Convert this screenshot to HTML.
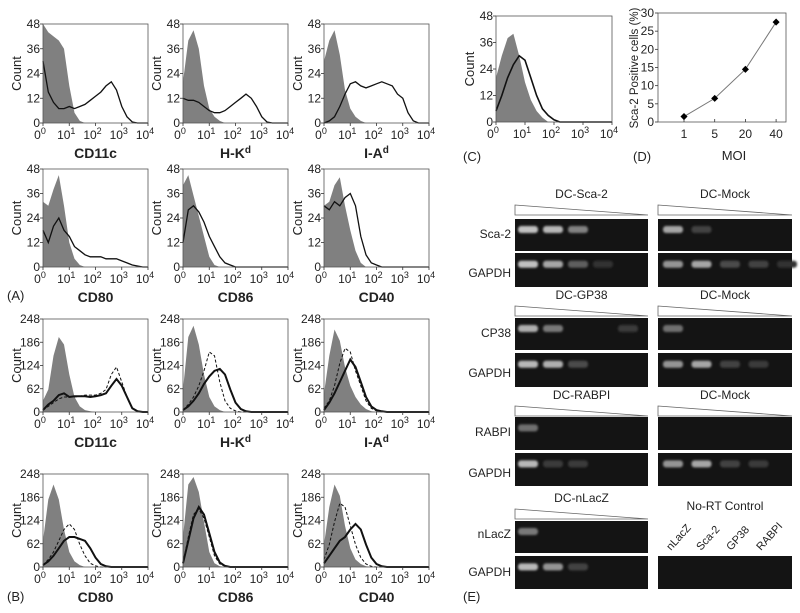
<!DOCTYPE html>
<html><head><meta charset="utf-8">
<style>
html,body{margin:0;padding:0;background:#fff;}
svg{display:block;font-family:"Liberation Sans",Arial,sans-serif;}
</style></head>
<body>
<svg id="fig" width="800" height="613" viewBox="0 0 800 613" xmlns="http://www.w3.org/2000/svg">
<defs><filter id="blur" x="-50%" y="-100%" width="200%" height="300%"><feGaussianBlur stdDeviation="1.1"/></filter></defs>
</svg>
<script>
// ---- histogram data (counts sampled every 0.2 log-decade from 10^0 to 10^4) ----
const logSteps = [0,0.2,0.4,0.6,0.8,1,1.2,1.4,1.6,1.8,2,2.2,2.4,2.6,2.8,3,3.2,3.4,3.6,3.8,4];
const A_ticks = [0,12,24,36,48];
const B_ticks = [0,62,124,186,248];
const xTickExp = [0,1,2,3,4];
// Panel A
const A_CD11c_iso = [48,44,42,40,36,18,5,1,0,0,0,0,0,0,0,0,0,0,0,0,0];
const A_CD11c_dc  = [30,15,10,7,7,8,7,8,9,11,13,15,18,20,16,8,3,0.5,0,0,0];
const A_HKd_iso   = [20,40,45,36,18,7,3,1,0,0,0,0,0,0,0,0,0,0,0,0,0];
const A_HKd_dc    = [12,11,11,10,8,6,5,5,6,8,10,12,14,12,8,3,0.5,0,0,0,0];
const A_IAd_iso   = [30,40,45,33,16,7,3,1,0,0,0,0,0,0,0,0,0,0,0,0,0];
const A_IAd_dc    = [0,1,3,8,14,19,20,18,17,18,19,20,19,18,14,12,5,1,0,0,0];
const A_CD80_iso  = [32,30,38,45,30,12,4,1,0,0,0,0,0,0,0,0,0,0,0,0,0];
const A_CD80_dc   = [18,12,20,24,18,15,10,8,6,5,5,5,4,4,4,3,2,1,0.5,0,0];
const A_CD86_iso  = [40,45,35,25,15,5,1,0,0,0,0,0,0,0,0,0,0,0,0,0,0];
const A_CD86_dc   = [12,28,30,27,22,15,10,5,2,1,0,0,0,0,0,0,0,0,0,0,0];
const A_CD40_iso  = [30,32,40,44,30,18,8,2,0,0,0,0,0,0,0,0,0,0,0,0,0];
const A_CD40_dc   = [30,28,32,30,34,36,30,15,6,2,1,0,0,0,0,0,0,0,0,0,0];
// Panel B
const B_CD11c_iso = [30,60,150,200,180,100,40,15,5,2,0,0,0,0,0,0,0,0,0,0,0];
const B_CD11c_d1  = [5,15,25,35,40,40,40,42,45,45,45,50,60,100,120,80,40,10,2,0,0];
const B_CD11c_d2  = [5,20,30,45,50,40,42,42,42,40,42,45,50,70,88,70,40,10,2,0,0];
const B_HKd_iso   = [60,200,230,180,100,40,15,5,0,0,0,0,0,0,0,0,0,0,0,0,0];
const B_HKd_d1    = [5,20,40,70,110,160,150,80,30,10,3,0,0,0,0,0,0,0,0,0,0];
const B_HKd_d2    = [5,15,30,50,75,95,110,115,100,60,25,8,2,0,0,0,0,0,0,0,0];
const B_IAd_iso   = [50,150,220,190,120,70,40,20,8,2,0,0,0,0,0,0,0,0,0,0,0];
const B_IAd_d1    = [10,30,70,130,170,160,110,70,30,10,3,0,0,0,0,0,0,0,0,0,0];
const B_IAd_d2    = [5,25,50,80,110,140,120,80,40,15,5,2,0,0,0,0,0,0,0,0,0];
const B_CD80_iso  = [70,180,220,180,100,40,15,5,0,0,0,0,0,0,0,0,0,0,0,0,0];
const B_CD80_d1   = [5,20,40,70,100,115,100,60,30,10,3,0,0,0,0,0,0,0,0,0,0];
const B_CD80_d2   = [5,15,30,50,70,80,80,75,70,50,25,8,2,0,0,0,0,0,0,0,0];
const B_CD86_iso  = [80,220,240,200,120,40,10,2,0,0,0,0,0,0,0,0,0,0,0,0,0];
const B_CD86_d1   = [10,80,140,155,130,80,30,8,2,0,0,0,0,0,0,0,0,0,0,0,0];
const B_CD86_d2   = [10,70,130,160,140,90,40,12,3,0,0,0,0,0,0,0,0,0,0,0,0];
const B_CD40_iso  = [60,160,220,190,110,50,20,8,2,0,0,0,0,0,0,0,0,0,0,0,0];
const B_CD40_d1   = [20,60,120,170,160,110,60,25,8,2,0,0,0,0,0,0,0,0,0,0,0];
const B_CD40_d2   = [10,30,50,70,80,100,115,100,60,25,8,2,0,0,0,0,0,0,0,0,0];
// Panel C
const C_iso = [20,30,38,40,30,18,10,5,2,0,0,0,0,0,0,0,0,0,0,0,0];
const C_dc  = [5,12,20,26,30,28,20,12,6,3,1,0,0,0,0,0,0,0,0,0,0];
// Panel D
const D_moi = ["1","5","20","40"];
const D_pct = [1.5,6.5,14.5,27.5];
const D_ticks = [0,5,10,15,20,25,30];
// Panel E (band intensities per lane)
const E_Sca2_L=[0.85,0.8,0.5,0,0], E_Sca2_R=[0.7,0.15,0,0,0];
const E_G1_L=[0.85,0.7,0.3,0.05,0], E_G1_R=[0.6,0.7,0.2,0.15,0.05];
const E_CP38_L=[0.75,0.45,0,0,0.1], E_CP38_R=[0.4,0,0,0,0];
const E_G2_L=[0.8,0.75,0.2,0,0], E_G2_R=[0.6,0.7,0.15,0.1,0];
const E_RAB_L=[0.4,0,0,0,0], E_RAB_R=[0,0,0,0,0];
const E_G3_L=[0.8,0.1,0.1,0,0], E_G3_R=[0.6,0.7,0.15,0.1,0];
const E_LAC_L=[0.45,0,0,0,0];
const E_G4_L=[0.8,0.6,0.15,0,0];

const NS="http://www.w3.org/2000/svg";
const svg=document.getElementById('fig');
function mk(tag,attrs,parent){const e=document.createElementNS(NS,tag);for(const k in attrs)e.setAttribute(k,attrs[k]);(parent||svg).appendChild(e);return e;}
function txt(x,y,s,size,opts,parent){const t=mk('text',Object.assign({x:x,y:y,'font-size':size,fill:'#222'},opts||{}),parent);t.textContent=s;return t;}

function hist(name,x0,y0,w,h,ymax,yt,iso,lines,label,sup){
  const g=mk('g',{});
  
  
  const xs=v=>x0+v/4*w, ys=v=>y0+h-v/ymax*h;
  let d='M'+xs(0)+','+ys(0);
  logSteps.forEach((l,i)=>{d+=' L'+xs(l).toFixed(1)+','+ys(iso[i]).toFixed(1);});
  d+=' L'+xs(4)+','+ys(0)+' Z';
  const p=mk('path',{d:d,fill:'#808080'},g);
  
  
  lines.forEach(ln=>{
    const pts=logSteps.map((l,i)=>xs(l).toFixed(1)+','+ys(ln.v[i]).toFixed(1)).join(' ');
    const pl=mk('polyline',{points:pts,fill:'none',stroke:'#111','stroke-width':ln.w,'stroke-dasharray':ln.dash||'none'},g);
    
    
  });
  mk('rect',{x:x0,y:y0,width:w,height:h,fill:'none',stroke:'#555','stroke-width':0.8},g);
  yt.forEach(t=>{
    mk('line',{x1:x0-3,x2:x0,y1:ys(t),y2:ys(t),stroke:'#333','stroke-width':0.8},g);
    txt(x0-3,ys(t)+4,String(t),12,{'text-anchor':'end'},g);
  });
  xTickExp.forEach(e=>{
    mk('line',{x1:xs(e),x2:xs(e),y1:y0+h,y2:y0+h+3,stroke:'#333','stroke-width':0.8},g);
    const t=txt(xs(e)-3,y0+h+16,e===0?'0':'10',12,{'text-anchor':'middle'},g);
    const s=mk('tspan',{'font-size':9,dy:-5},t);s.textContent=String(e);
  });
  const yl=txt(x0-22,y0+h/2,'Count',13,{'text-anchor':'middle',transform:'rotate(-90 '+(x0-22)+' '+(y0+h/2)+')'},g);
  
  
  if(label){
    const t=txt(x0+w/2,y0+h+35,label,14,{'text-anchor':'middle','font-weight':'bold'},g);
    if(sup){const s=mk('tspan',{'font-size':10,dy:-5},t);s.textContent=sup;}
    
    
  }
}
const colX=[43,183,324], W=105;
// A
hist('a-cd11c',colX[0],24,W,99,48,A_ticks,A_CD11c_iso,[{v:A_CD11c_dc,w:1.3,n:'dc-line'}],'CD11c');
hist('a-hkd',colX[1],24,W,99,48,A_ticks,A_HKd_iso,[{v:A_HKd_dc,w:1.3,n:'dc-line'}],'H-K','d');
hist('a-iad',colX[2],24,W,99,48,A_ticks,A_IAd_iso,[{v:A_IAd_dc,w:1.3,n:'dc-line'}],'I-A','d');
hist('a-cd80',colX[0],169,W,98,48,A_ticks,A_CD80_iso,[{v:A_CD80_dc,w:1.3,n:'dc-line'}],'CD80');
hist('a-cd86',colX[1],169,W,98,48,A_ticks,A_CD86_iso,[{v:A_CD86_dc,w:1.3,n:'dc-line'}],'CD86');
hist('a-cd40',colX[2],169,W,98,48,A_ticks,A_CD40_iso,[{v:A_CD40_dc,w:1.3,n:'dc-line'}],'CD40');
// B
const bl=(d1,d2)=>[{v:d1,w:1,dash:'3,2',n:'dashed-line'},{v:d2,w:2,n:'solid-line'}];
hist('b-cd11c',colX[0],319,W,93,248,B_ticks,B_CD11c_iso,bl(B_CD11c_d1,B_CD11c_d2),'CD11c');
hist('b-hkd',colX[1],319,W,93,248,B_ticks,B_HKd_iso,bl(B_HKd_d1,B_HKd_d2),'H-K','d');
hist('b-iad',colX[2],319,W,93,248,B_ticks,B_IAd_iso,bl(B_IAd_d1,B_IAd_d2),'I-A','d');
hist('b-cd80',colX[0],474,W,93,248,B_ticks,B_CD80_iso,bl(B_CD80_d1,B_CD80_d2),'CD80');
hist('b-cd86',colX[1],474,W,93,248,B_ticks,B_CD86_iso,bl(B_CD86_d1,B_CD86_d2),'CD86');
hist('b-cd40',colX[2],474,W,93,248,B_ticks,B_CD40_iso,bl(B_CD40_d1,B_CD40_d2),'CD40');
// C
hist('c-sca2',496,16,116,106,48,A_ticks,C_iso,[{v:C_dc,w:1.6,n:'dc-line'}],null);
// panel letters
[['(A)',7,300],['(B)',7,601],['(C)',463,161],['(D)',633,161],['(E)',463,601]].forEach(a=>{
  const t=txt(a[1],a[2],a[0],13,{});
  
  
});

// D chart
(function(){
  const x0=658,y0=13,w=128,h=109,ymax=30;
  const g=mk('g',{});
  
  
  const ys=v=>y0+h-v/ymax*h;
  const xs=i=>684+i*30.7;
  mk('rect',{x:x0,y:y0,width:w,height:h,fill:'none',stroke:'#555','stroke-width':0.8},g);
  D_ticks.forEach(t=>{
    mk('line',{x1:x0-3,x2:x0,y1:ys(t),y2:ys(t),stroke:'#333','stroke-width':0.8},g);
    txt(x0-4,ys(t)+4,String(t),12,{'text-anchor':'end'},g);
  });
  D_moi.forEach((m,i)=>{
    mk('line',{x1:xs(i),x2:xs(i),y1:y0+h,y2:y0+h-3,stroke:'#333','stroke-width':0.8},g);
    txt(xs(i),y0+h+16,m,12,{'text-anchor':'middle'},g);
  });
  const pl=mk('polyline',{points:D_pct.map((v,i)=>xs(i)+','+ys(v)).join(' '),fill:'none',stroke:'#777','stroke-width':1},g);
  
  
  D_pct.forEach((v,i)=>{
    const pt=mk('rect',{x:xs(i)-2.5,y:ys(v)-2.5,width:5,height:5,fill:'#000',transform:'rotate(45 '+xs(i)+' '+ys(v)+')'},g);
    
    
  });
  const yl=txt(638,68,'Sca-2 Positive cells (%)',11.5,{'text-anchor':'middle',transform:'rotate(-90 638 68)'},g);
  
  
  const xl=txt(734,160,'MOI',13,{'text-anchor':'middle'},g);
  
  
})();

// E gels
const GL={x:515,w:133,lane0:528,step:25}, GR={x:658,w:134,lane0:673,step:28.5};
function header(blk,y,label){
  const t=txt(blk.x+blk.w/2,y,label,12,{'text-anchor':'middle'});
  
  
  const w=mk('polygon',{points:blk.x+','+(y+7)+' '+(blk.x+blk.w)+','+(y+17)+' '+blk.x+','+(y+17),fill:'none',stroke:'#666','stroke-width':0.8});
  
  
}
function gel(blk,y,h,vals){
  const g=mk('g',{});
  
  
  mk('rect',{x:blk.x,y:y,width:blk.w,height:h,fill:'#141414'},g);
  if(!vals)return;
  vals.forEach((v,i)=>{
    if(v<=0)return;
    const c=Math.round(40+v*180);
    const b=mk('rect',{x:blk.lane0+i*blk.step-10,y:y+h*0.33-3.5,width:20,height:7,rx:3,fill:'rgb('+c+','+c+','+c+')',filter:'url(#blur)'},g);
    
    
  });
}
function rowLabel(y,s){const t=txt(511,y,s,12,{'text-anchor':'end'});}
header(GL,198,'DC-Sca-2');header(GR,198,'DC-Mock');
gel(GL,219,32,E_Sca2_L);gel(GR,219,32,E_Sca2_R);rowLabel(238,'Sca-2');
gel(GL,253,34,E_G1_L);gel(GR,253,34,E_G1_R);rowLabel(277,'GAPDH');
header(GL,299,'DC-GP38');header(GR,299,'DC-Mock');
gel(GL,318,32,E_CP38_L);gel(GR,318,32,E_CP38_R);rowLabel(337,'CP38');
gel(GL,353,34,E_G2_L);gel(GR,353,34,E_G2_R);rowLabel(377,'GAPDH');
header(GL,399,'DC-RABPI');header(GR,399,'DC-Mock');
gel(GL,417,33,E_RAB_L);gel(GR,417,33,E_RAB_R);rowLabel(436,'RABPI');
gel(GL,453,33,E_G3_L);gel(GR,453,33,E_G3_R);rowLabel(477,'GAPDH');
header(GL,502,'DC-nLacZ');
gel(GL,521,32,E_LAC_L);rowLabel(538,'nLacZ');
gel(GL,556,33,E_G4_L);gel(GR,556,33,null);rowLabel(576,'GAPDH');
(function(){
  const t=txt(725,510,'No-RT Control',12,{'text-anchor':'middle'});
  
  
  ['nLacZ','Sca-2','GP38','RABPI'].forEach((s,i)=>{
    const x=671+i*30, y=551;
    const l=txt(x,y,s,11,{transform:'rotate(-48 '+x+' '+y+')'});
    
    
  });
})();
</script>
</body></html>
